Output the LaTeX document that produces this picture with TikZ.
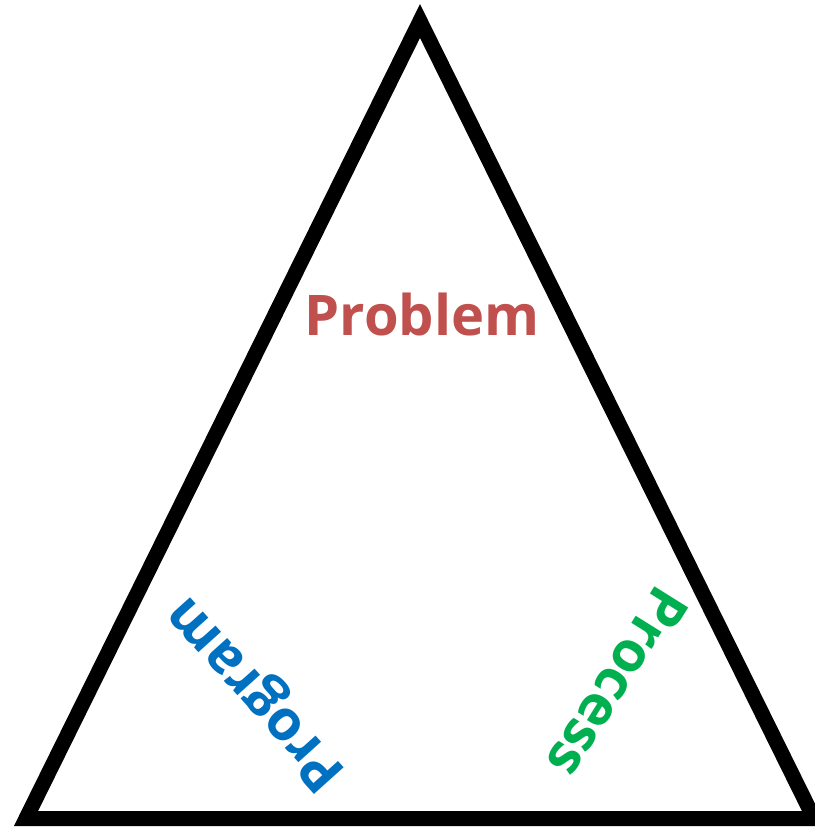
\documentclass[tikz,border=0pt]{standalone}
\usepackage{fontspec}
\setmainfont{Open Sans}
\definecolor{probred}{HTML}{C0504D}
\definecolor{progblue}{HTML}{0070C0}
\definecolor{procgreen}{HTML}{00B050}
\begin{document}
\begin{tikzpicture}[x=1pt,y=-1pt,
  edge/.style={line width=15pt, line join=miter, black},
  word/.style={font=\fontsize{56}{62}\selectfont\bfseries, inner sep=0pt}]
\useasboundingbox (0,0) rectangle (814,827);
\coordinate (apex) at (420,21);
\coordinate (bl) at (26,818.5);
\coordinate (br) at (814,818.5);
\draw[edge] (apex) -- (bl) -- (br) -- cycle;
\node[word, text=probred] (problem) at (422,314) {Problem};
\node[word, text=progblue, rotate=132] (program) at (258,692) {Program};
\node[word, text=procgreen, rotate=-122] (process) at (618,683) {Process};
\end{tikzpicture}
\end{document}
